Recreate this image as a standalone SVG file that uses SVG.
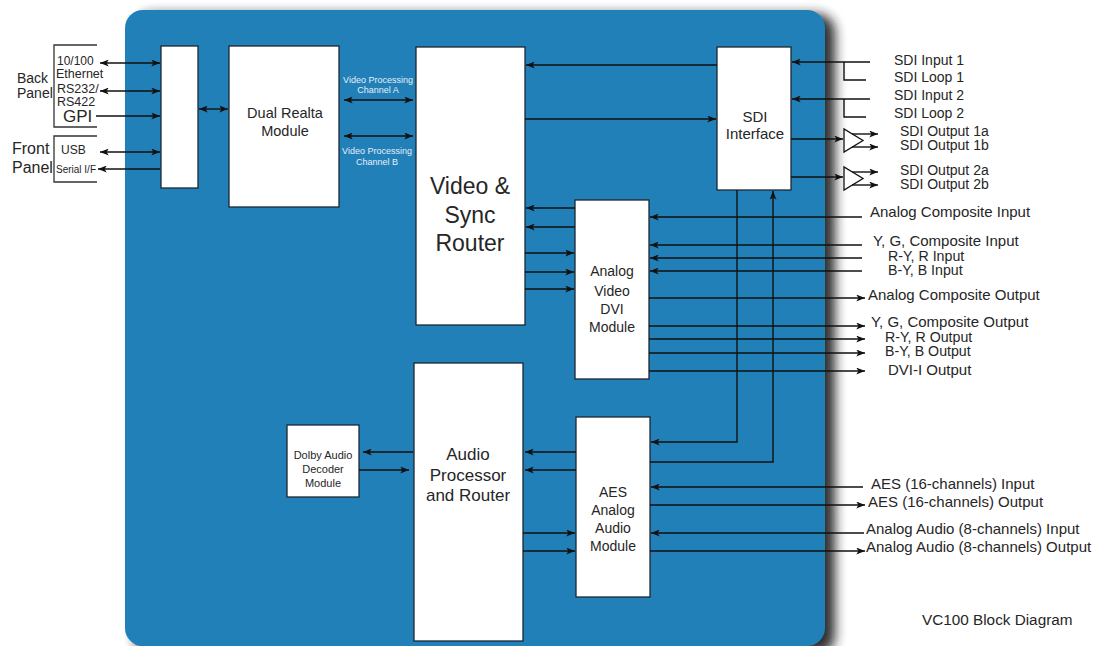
<svg xmlns="http://www.w3.org/2000/svg" width="1098" height="646" viewBox="0 0 1098 646">
<defs>
<style>
.box{fill:#fff;stroke:#1c2733;stroke-width:1.3}
.ln{stroke:#111;stroke-width:1.4;fill:none}
.a{marker-end:url(#ah)}
.d{marker-start:url(#ah);marker-end:url(#ah)}
.t{font-family:"Liberation Sans",Arial,sans-serif;fill:#262626}
.r{font-size:15px}
.s{font-size:14.2px}
.w{font-family:"Liberation Sans",Arial,sans-serif;fill:#e6eef6;font-size:9px;text-anchor:middle}
.c{text-anchor:middle}
.br{stroke:#333;stroke-width:1.3;fill:none}
</style>
<marker id="ah" viewBox="0 0 10 8" refX="10" refY="4" markerWidth="9" markerHeight="7" orient="auto-start-reverse" markerUnits="userSpaceOnUse">
<path d="M0,0 L10,4 L0,8 L2.5,4 z" fill="#111"/>
</marker>
<filter id="sh" x="-10%" y="-10%" width="120%" height="120%">
<feGaussianBlur stdDeviation="6"/>
</filter>
</defs>
<rect width="1098" height="646" fill="#fff"/>
<g id="panel">
<rect x="135" y="14" width="700" height="640" rx="18" fill="#222" opacity="0.95" filter="url(#sh)"/>
<rect x="125" y="10" width="700" height="636" rx="18" fill="#2280b9"/>
</g>
<g id="back-panel">
<polyline class="br" points="97,45 54,45 54,127 97,127"/>
<text class="t" x="17" y="83" font-size="14" fill="#444">Back</text>
<text class="t" x="17" y="98" font-size="14">Panel</text>
<text class="t" x="57" y="65" font-size="12">10/100</text>
<text class="t" x="56" y="78" font-size="12.5">Ethernet</text>
<text class="t" x="57" y="93" font-size="12.5">RS232/</text>
<text class="t" x="57" y="106" font-size="12.5">RS422</text>
<text class="t" x="63" y="122" font-size="17">GPI</text>
</g>
<g id="front-panel">
<polyline class="br" points="97,136 54,136 54,182 97,182"/>
<text class="t" x="12" y="154" font-size="16">Front</text>
<text class="t" x="12" y="173" font-size="16">Panel</text>
<text class="t" x="61" y="154" font-size="12">USB</text>
<text class="t" x="56" y="173" font-size="10">Serial I/F</text>
</g>
<g id="io-box"><rect class="box" x="161" y="46" width="37" height="142"/></g>
<g id="dual-realta">
<rect class="box" x="229" y="46" width="110" height="161"/>
<text class="t c" x="285" y="118" font-size="14.5">Dual Realta</text>
<text class="t c" x="285" y="136" font-size="14.5">Module</text>
</g>
<g id="video-router">
<rect class="box" x="416" y="47" width="109" height="278"/>
<text class="t c" x="470" y="194" font-size="23">Video &amp;</text>
<text class="t c" x="470" y="223" font-size="23">Sync</text>
<text class="t c" x="470" y="251" font-size="23">Router</text>
</g>
<g id="sdi-interface">
<rect class="box" x="717" y="47" width="74" height="143"/>
<text class="t c" x="755" y="122" font-size="15">SDI</text>
<text class="t c" x="755" y="139" font-size="15">Interface</text>
</g>
<g id="analog-video">
<rect class="box" x="575" y="200" width="74" height="179"/>
<text class="t c" x="612" y="276" font-size="14">Analog</text>
<text class="t c" x="612" y="296" font-size="14">Video</text>
<text class="t c" x="612" y="314" font-size="14">DVI</text>
<text class="t c" x="612" y="332" font-size="14">Module</text>
</g>
<g id="audio-router">
<rect class="box" x="414" y="363" width="109" height="278"/>
<text class="t c" x="468" y="460" font-size="17">Audio</text>
<text class="t c" x="468" y="481" font-size="17">Processor</text>
<text class="t c" x="468" y="501" font-size="17">and Router</text>
</g>
<g id="dolby">
<rect class="box" x="287" y="425" width="72" height="72"/>
<text class="t c" x="323" y="459" font-size="11">Dolby Audio</text>
<text class="t c" x="323" y="473" font-size="11">Decoder</text>
<text class="t c" x="323" y="487" font-size="11">Module</text>
</g>
<g id="aes-module">
<rect class="box" x="576" y="417" width="74" height="180"/>
<text class="t c" x="613" y="497" font-size="14">AES</text>
<text class="t c" x="613" y="515" font-size="14">Analog</text>
<text class="t c" x="613" y="533" font-size="14">Audio</text>
<text class="t c" x="613" y="551" font-size="14">Module</text>
</g>
<g id="channel-labels">
<text class="w" x="378" y="83">Video Processing</text>
<text class="w" x="378" y="93">Channel A</text>
<text class="w" x="377" y="154">Video Processing</text>
<text class="w" x="377" y="165">Channel B</text>
</g>
<g id="sdi-buffers">
<polygon points="844,129 844,152 863,140.5" fill="#fff" stroke="#111" stroke-width="1.3"/>
<polygon points="844,167 844,190 863,178.5" fill="#fff" stroke="#111" stroke-width="1.3"/>
</g>
<g id="connectors">
<line class="ln d" x1="100" y1="63" x2="160" y2="63"/>
<line class="ln d" x1="100" y1="91" x2="160" y2="91"/>
<line class="ln a" x1="96" y1="116" x2="160" y2="116"/>
<line class="ln d" x1="100" y1="152" x2="160" y2="152"/>
<line class="ln a" x1="160" y1="169" x2="98" y2="169"/>
<line class="ln d" x1="199" y1="109" x2="228" y2="109"/>
<line class="ln d" x1="344" y1="100" x2="413" y2="100"/>
<line class="ln d" x1="344" y1="136" x2="413" y2="136"/>
<line class="ln a" x1="717" y1="65" x2="526" y2="65"/>
<line class="ln a" x1="525" y1="119" x2="716" y2="119"/>
<line class="ln a" x1="870" y1="62" x2="792" y2="62"/>
<polyline class="ln" points="844,62 844,80 866,80"/>
<line class="ln a" x1="870" y1="99" x2="792" y2="99"/>
<polyline class="ln" points="844,99 844,117 866,117"/>
<line class="ln a" x1="791" y1="139" x2="843" y2="139"/>
<line class="ln a" x1="852" y1="134" x2="878" y2="134"/>
<line class="ln a" x1="852" y1="147" x2="878" y2="147"/>
<line class="ln a" x1="791" y1="177" x2="843" y2="177"/>
<line class="ln a" x1="852" y1="172" x2="878" y2="172"/>
<line class="ln a" x1="852" y1="185" x2="878" y2="185"/>
<line class="ln a" x1="575" y1="208" x2="526" y2="208"/>
<line class="ln a" x1="575" y1="227" x2="526" y2="227"/>
<line class="ln a" x1="525" y1="253" x2="574" y2="253"/>
<line class="ln a" x1="525" y1="272" x2="574" y2="272"/>
<line class="ln a" x1="525" y1="289" x2="574" y2="289"/>
<line class="ln a" x1="862" y1="217" x2="650" y2="217"/>
<line class="ln a" x1="862" y1="245" x2="650" y2="245"/>
<line class="ln a" x1="862" y1="258" x2="650" y2="258"/>
<line class="ln a" x1="862" y1="271" x2="650" y2="271"/>
<line class="ln a" x1="649" y1="298" x2="865" y2="298"/>
<line class="ln a" x1="649" y1="326" x2="865" y2="326"/>
<line class="ln a" x1="649" y1="339" x2="865" y2="339"/>
<line class="ln a" x1="649" y1="353" x2="865" y2="353"/>
<line class="ln a" x1="649" y1="371" x2="865" y2="371"/>
<polyline class="ln a" points="737,190 737,442 651,442"/>
<polyline class="ln a" points="650,462 773,462 773,191"/>
<line class="ln a" x1="863" y1="487" x2="651" y2="487"/>
<line class="ln a" x1="650" y1="505" x2="865" y2="505"/>
<line class="ln a" x1="864" y1="533" x2="651" y2="533"/>
<line class="ln a" x1="650" y1="551" x2="865" y2="551"/>
<line class="ln a" x1="413" y1="452" x2="363" y2="452"/>
<line class="ln a" x1="359" y1="470" x2="409" y2="470"/>
<line class="ln a" x1="576" y1="452" x2="525" y2="452"/>
<line class="ln a" x1="576" y1="470" x2="525" y2="470"/>
<line class="ln a" x1="523" y1="533" x2="575" y2="533"/>
<line class="ln a" x1="523" y1="551" x2="575" y2="551"/>
</g>
<g id="sdi-labels">
<text class="t" x="894" y="65" font-size="14">SDI Input 1</text>
<text class="t" x="894" y="82" font-size="14">SDI Loop 1</text>
<text class="t" x="894" y="100" font-size="14">SDI Input 2</text>
<text class="t" x="894" y="118" font-size="14">SDI Loop 2</text>
<text class="t" x="900" y="136" font-size="14">SDI Output 1a</text>
<text class="t" x="900" y="150" font-size="14">SDI Output 1b</text>
<text class="t" x="900" y="175" font-size="14">SDI Output 2a</text>
<text class="t" x="900" y="189" font-size="14">SDI Output 2b</text>
</g>
<g id="video-labels">
<text class="t r" x="870" y="217">Analog Composite Input</text>
<text class="t r" x="873" y="246">Y, G, Composite Input</text>
<text class="t s" x="888" y="261">R-Y, R Input</text>
<text class="t s" x="888" y="275">B-Y, B Input</text>
<text class="t r" x="868" y="300">Analog Composite Output</text>
<text class="t r" x="871" y="327">Y, G, Composite Output</text>
<text class="t s" x="885" y="342">R-Y, R Output</text>
<text class="t s" x="885" y="356">B-Y, B Output</text>
<text class="t r" x="888" y="375">DVI-I Output</text>
</g>
<g id="audio-labels">
<text class="t r" x="871" y="489">AES (16-channels) Input</text>
<text class="t r" x="868" y="507">AES (16-channels) Output</text>
<text class="t r" x="866" y="534">Analog Audio (8-channels) Input</text>
<text class="t r" x="866" y="552">Analog Audio (8-channels) Output</text>
</g>
<g id="title">
<text class="t" x="922" y="625" font-size="15.3">VC100 Block Diagram</text>
</g>
</svg>
